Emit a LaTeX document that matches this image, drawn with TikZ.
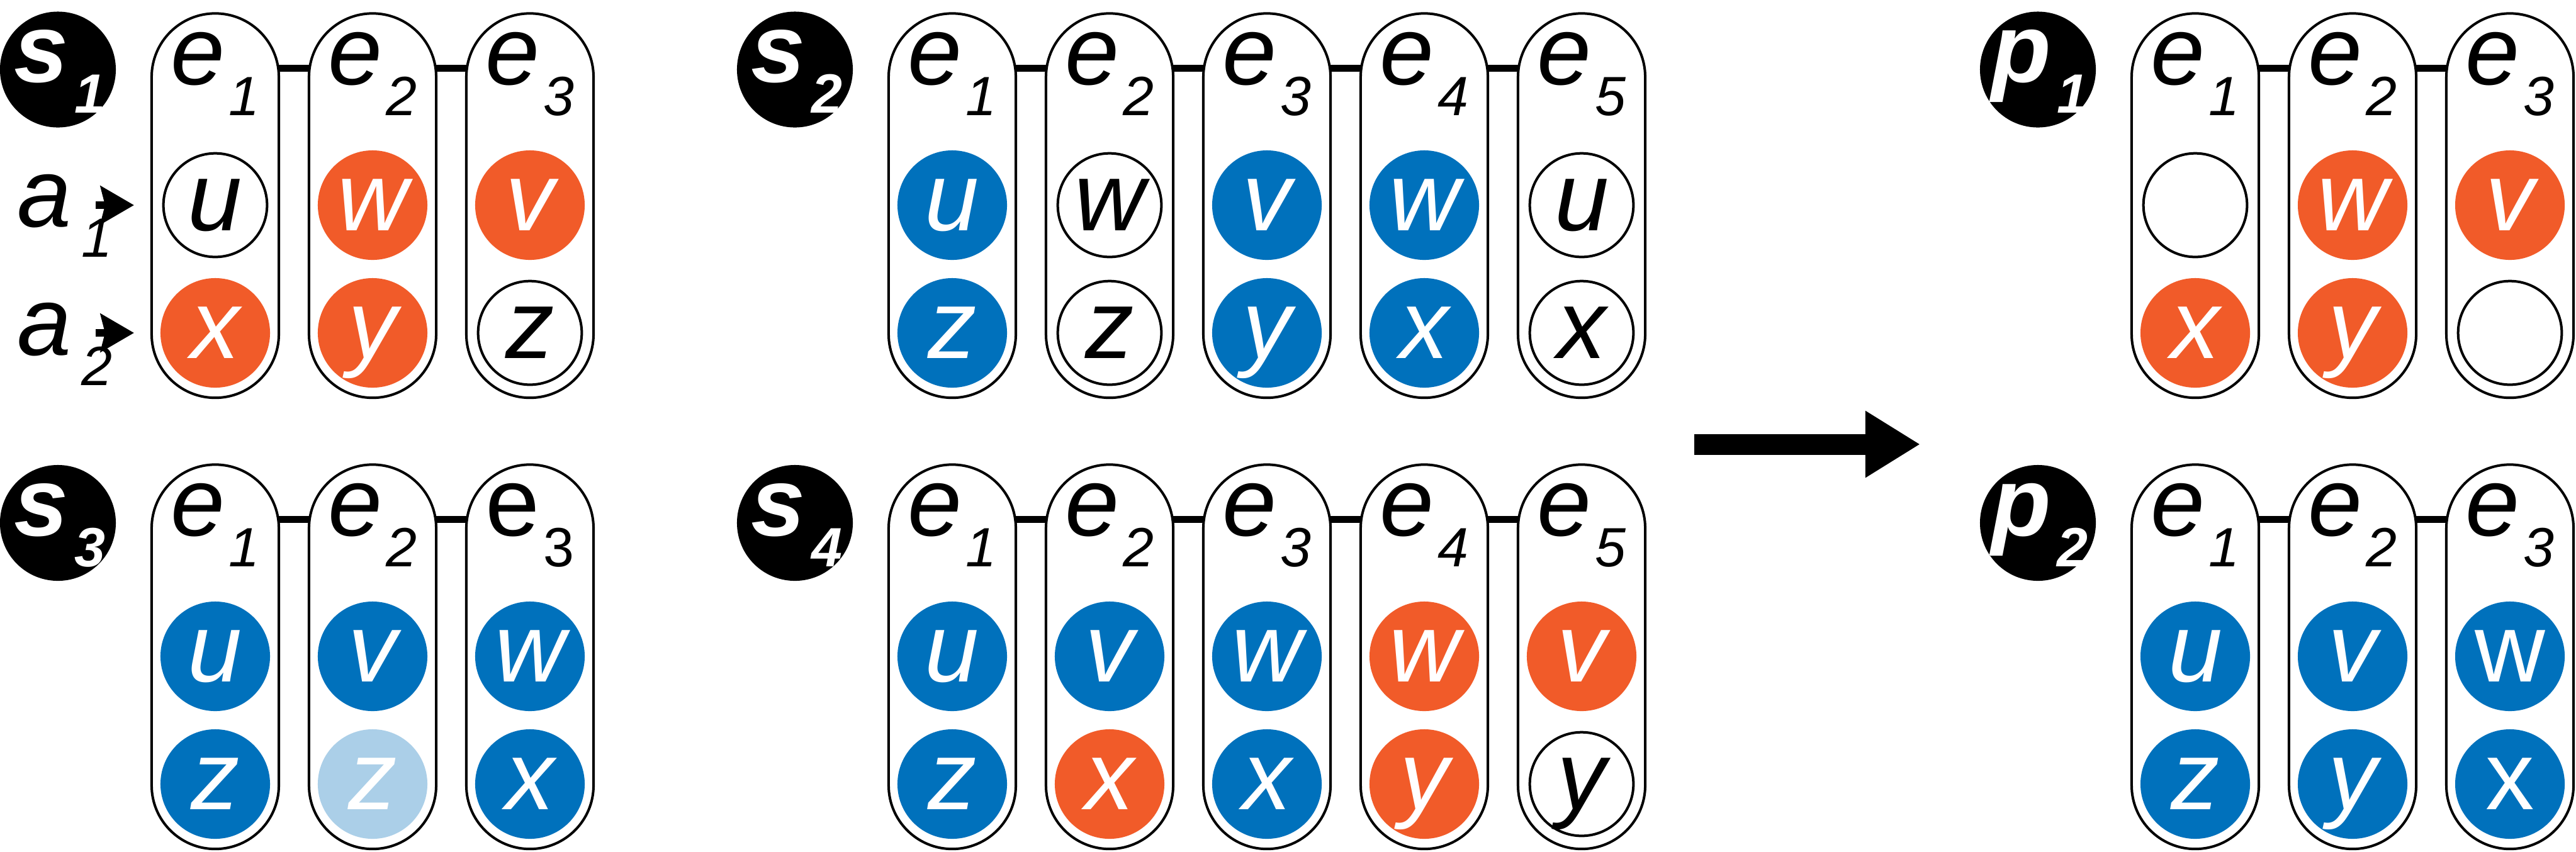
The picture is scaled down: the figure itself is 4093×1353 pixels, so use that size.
\documentclass[tikz,border=0pt]{standalone}
\usepackage{fontspec}
\setmainfont{Liberation Sans}
\usetikzlibrary{arrows.meta}
\definecolor{orng}{RGB}{241,91,41}
\definecolor{blu}{RGB}{0,113,188}
\definecolor{lblu}{RGB}{171,207,232}
\newcommand\subsz{\fontsize{25}{25}\selectfont}
\newcommand\elabel[1]{e\kern0.04em\raisebox{-0.49cm}{\subsz #1}}
\newcommand\uelabel[1]{{\upshape e\kern0.04em\raisebox{-0.49cm}{\subsz #1}}}
\newcommand\tlabel[2]{#1\kern0.06em\raisebox{-0.49cm}{\subsz #2}}
\newcommand\pcol[8]{%
  \node[pill] (#1) at (#2,{#3+326.75}) {};
  \node[elab] (#1l) at (#2,{#3+134}) {#4};
  \node[#5] (#1a) at (#2,{#3+326}) {#6};
  \node[#7] (#1b) at (#2,{#3+529}) {#8};
}
\newcommand\tagnode[4]{%
  \node[tagc] (#1) at (#2,#3) {};
  \begin{scope}
    \clip (#2,#3) circle (0.92cm);
    \node[taglbl] (#1t) at ({#2+3},{#3+20}) {#4};
  \end{scope}
}
\newcommand\linkbar[2]{\draw[bar] ([yshift=2.1825cm]#1.east) -- ([yshift=2.1825cm]#2.west);}
\begin{document}
\begin{tikzpicture}[x=0.01cm,y=-0.01cm,
  pill/.style={rectangle, draw=black, line width=0.04cm, fill=white, rounded corners=1.01cm,
    minimum width=2.02cm, minimum height=6.105cm, inner sep=0, outer sep=0},
  elab/.style={anchor=base, inner sep=0, font=\fontsize{44}{44}\selectfont\itshape},
  letter/.style={circle, inner sep=0, outer sep=0, text height=0.8cm, text depth=0cm,
    font=\fontsize{44}{44}\selectfont\itshape},
  cfo/.style={letter, minimum size=1.74cm, fill=orng, text=white},
  cfb/.style={letter, minimum size=1.74cm, fill=blu, text=white},
  cfl/.style={letter, minimum size=1.74cm, fill=lblu, text=white},
  cw/.style={letter, minimum size=1.646cm, draw=black, line width=0.04cm, fill=white, text=black},
  bar/.style={line width=0.11cm, draw=black},
  tagc/.style={circle, fill=black, minimum size=1.84cm, inner sep=0, outer sep=0},
  taglbl/.style={anchor=base, inner sep=0, text=white, font=\fontsize{44}{44}\selectfont\bfseries\itshape},
  alab/.style={anchor=base west, inner sep=0, font=\fontsize{44}{44}\selectfont\itshape},
  pointer/.style={line width=0.12cm, -{Stealth[length=0.53cm, width=0.6cm, inset=0.07cm]}},
  bigarrow/.style={line width=0.33cm, -{Triangle[length=0.87cm, width=1.0cm]}}
]
\useasboundingbox (0,0) rectangle (4093,1353);

% ---------- s1 ----------
\tagnode{s1}{92}{110.5}{\tlabel{s}{1}}
\pcol{sAe1}{342}{0}{\elabel{1}}{cw}{u}{cfo}{x}
\pcol{sAe2}{592}{0}{\elabel{2}}{cfo}{w}{cfo}{y}
\pcol{sAe3}{842}{0}{\elabel{3}}{cfo}{v}{cw}{z}
\linkbar{sAe1}{sAe2}
\linkbar{sAe2}{sAe3}
\node[alab] (a1) at (27,360) {a\kern0.1em\raisebox{-0.48cm}{\subsz 1}};
\node[alab] (a2) at (27,564) {a\kern0.1em\raisebox{-0.48cm}{\subsz 2}};
\coordinate (a1s) at (152,326);
\coordinate (a1e) at (213,326);
\coordinate (a2s) at (152,529);
\coordinate (a2e) at (213,529);
\draw[pointer] (a1s) -- (a1e);
\draw[pointer] (a2s) -- (a2e);

% ---------- s2 ----------
\tagnode{s2}{1263}{110.5}{\tlabel{s}{2}}
\pcol{sBe1}{1513}{0}{\elabel{1}}{cfb}{u}{cfb}{z}
\pcol{sBe2}{1763}{0}{\elabel{2}}{cw}{w}{cw}{z}
\pcol{sBe3}{2013}{0}{\elabel{3}}{cfb}{v}{cfb}{y}
\pcol{sBe4}{2263}{0}{\elabel{4}}{cfb}{w}{cfb}{x}
\pcol{sBe5}{2513}{0}{\elabel{5}}{cw}{u}{cw}{x}
\linkbar{sBe1}{sBe2}
\linkbar{sBe2}{sBe3}
\linkbar{sBe3}{sBe4}
\linkbar{sBe4}{sBe5}

% ---------- s3 ----------
\tagnode{s3}{92}{831}{\tlabel{s}{3}}
\pcol{sCe1}{342}{717}{\elabel{1}}{cfb}{u}{cfb}{z}
\pcol{sCe2}{592}{717}{\elabel{2}}{cfb}{v}{cfl}{z}
\pcol{sCe3}{842}{717}{\uelabel{3}}{cfb}{w}{cfb}{x}
\linkbar{sCe1}{sCe2}
\linkbar{sCe2}{sCe3}

% ---------- s4 ----------
\tagnode{s4}{1263}{831}{\tlabel{s}{4}}
\pcol{sDe1}{1513}{717}{\elabel{1}}{cfb}{u}{cfb}{z}
\pcol{sDe2}{1763}{717}{\elabel{2}}{cfb}{v}{cfo}{x}
\pcol{sDe3}{2013}{717}{\elabel{3}}{cfb}{w}{cfb}{x}
\pcol{sDe4}{2263}{717}{\elabel{4}}{cfo}{w}{cfo}{y}
\pcol{sDe5}{2513}{717}{\elabel{5}}{cfo}{v}{cw}{y}
\linkbar{sDe1}{sDe2}
\linkbar{sDe2}{sDe3}
\linkbar{sDe3}{sDe4}
\linkbar{sDe4}{sDe5}

% ---------- arrow ----------
\coordinate (arS) at (2692,706);
\coordinate (arE) at (3051,706);
\draw[bigarrow] (arS) -- (arE);

% ---------- p1 ----------
\tagnode{p1}{3238}{110.5}{\tlabel{p}{1}}
\pcol{pAe1}{3488}{0}{\elabel{1}}{cw}{}{cfo}{x}
\pcol{pAe2}{3738}{0}{\elabel{2}}{cfo}{w}{cfo}{y}
\pcol{pAe3}{3988}{0}{\elabel{3}}{cfo}{v}{cw}{}
\linkbar{pAe1}{pAe2}
\linkbar{pAe2}{pAe3}

% ---------- p2 ----------
\tagnode{p2}{3238}{831}{\tlabel{p}{2}}
\pcol{pBe1}{3488}{717}{\elabel{1}}{cfb}{u}{cfb}{z}
\pcol{pBe2}{3738}{717}{\elabel{2}}{cfb}{v}{cfb}{y}
\pcol{pBe3}{3988}{717}{\elabel{3}}{cfb}{\upshape w}{cfb}{\upshape x}
\linkbar{pBe1}{pBe2}
\linkbar{pBe2}{pBe3}
\end{tikzpicture}
\end{document}
